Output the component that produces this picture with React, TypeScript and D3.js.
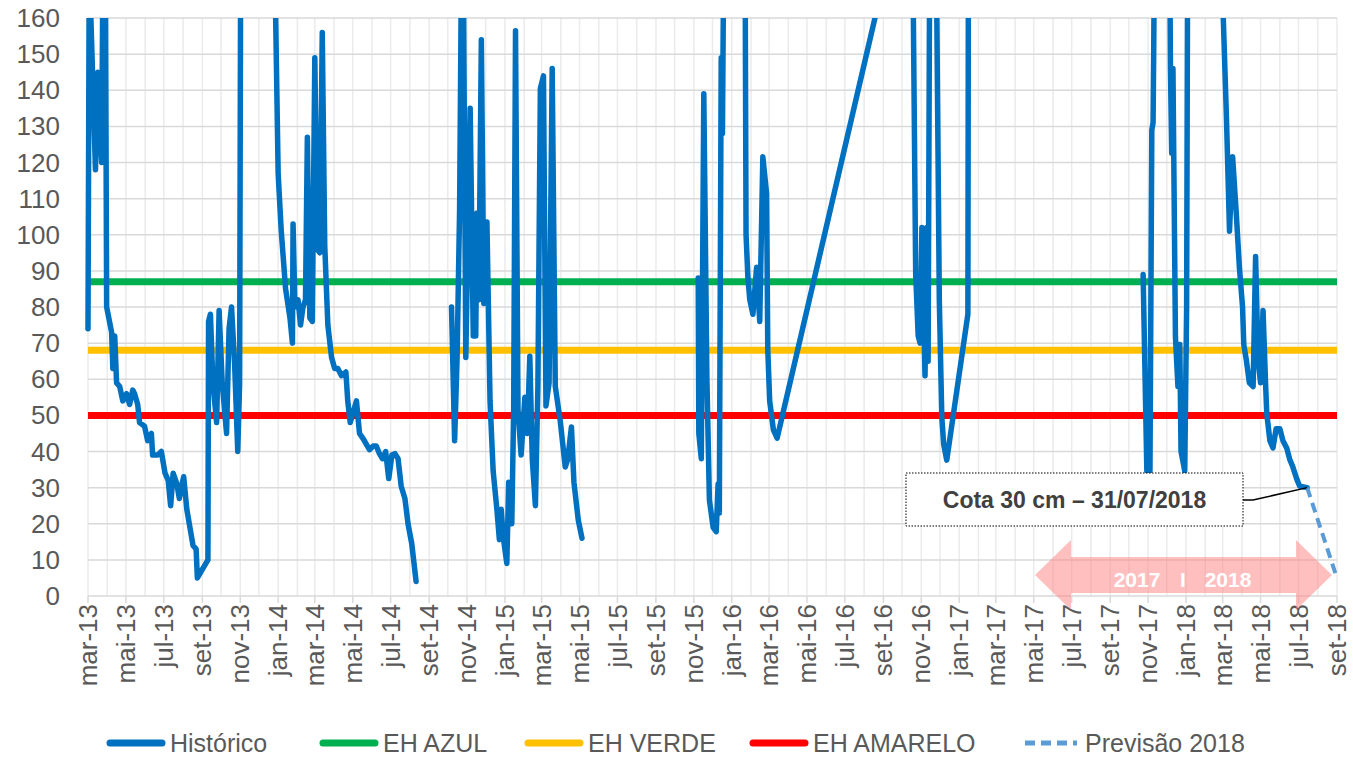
import React, { useRef, useEffect } from "react";
import * as d3 from "d3";

type Pt = [string, number];

// Histórico, split where the record has gaps
const hist2013: Pt[] = [
  ["2013-03-01", 74], ["2013-03-03", 175], ["2013-03-13", 118], ["2013-03-17", 145], ["2013-03-23", 120],
  ["2013-03-25", 175], ["2013-03-29", 175], ["2013-03-31", 80], ["2013-04-08", 73], ["2013-04-10", 63],
  ["2013-04-13", 72], ["2013-04-16", 59], ["2013-04-21", 58], ["2013-04-26", 54], ["2013-05-02", 56],
  ["2013-05-07", 53], ["2013-05-12", 57], ["2013-05-15", 56], ["2013-05-20", 53], ["2013-05-23", 48],
  ["2013-05-31", 47], ["2013-06-05", 43], ["2013-06-11", 45], ["2013-06-13", 39], ["2013-06-21", 39],
  ["2013-06-27", 40], ["2013-07-03", 34], ["2013-07-08", 32], ["2013-07-12", 25], ["2013-07-16", 34],
  ["2013-07-22", 31], ["2013-07-26", 27], ["2013-07-29", 30], ["2013-08-02", 33], ["2013-08-07", 24],
  ["2013-08-12", 19], ["2013-08-17", 14], ["2013-08-22", 13], ["2013-08-24", 5], ["2013-09-10", 10],
  ["2013-09-11", 76], ["2013-09-14", 78], ["2013-09-18", 59], ["2013-09-24", 48], ["2013-09-28", 79],
  ["2013-10-03", 59], ["2013-10-10", 45], ["2013-10-14", 74], ["2013-10-18", 80], ["2013-10-23", 64],
  ["2013-10-28", 40], ["2013-10-31", 59], ["2013-11-02", 200], ["2013-12-25", 200], ["2013-12-28", 160],
  ["2014-01-01", 117], ["2014-01-06", 101], ["2014-01-13", 85], ["2014-01-20", 77], ["2014-01-24", 70],
  ["2014-01-25", 103], ["2014-01-28", 80], ["2014-02-02", 82], ["2014-02-06", 75], ["2014-02-10", 80],
  ["2014-02-14", 82], ["2014-02-17", 127], ["2014-02-21", 77], ["2014-02-25", 76], ["2014-03-01", 149],
  ["2014-03-05", 96], ["2014-03-09", 95], ["2014-03-13", 156], ["2014-03-17", 97], ["2014-03-22", 75],
  ["2014-03-28", 66], ["2014-04-02", 63], ["2014-04-07", 63], ["2014-04-13", 61], ["2014-04-20", 62],
  ["2014-04-23", 54], ["2014-04-27", 48], ["2014-05-07", 54], ["2014-05-12", 45], ["2014-05-18", 43.5],
  ["2014-05-23", 42], ["2014-05-28", 40.5], ["2014-06-03", 41.5], ["2014-06-08", 41.5], ["2014-06-13", 39.4],
  ["2014-06-18", 38], ["2014-06-23", 40], ["2014-06-28", 32.5], ["2014-07-03", 39], ["2014-07-08", 39.4],
  ["2014-07-13", 38], ["2014-07-18", 30.4], ["2014-07-24", 27], ["2014-07-29", 20], ["2014-08-04", 14.5],
  ["2014-08-11", 4],
];

const hist2015: Pt[] = [
  ["2014-10-07", 80], ["2014-10-12", 43], ["2014-10-16", 66], ["2014-10-20", 107], ["2014-10-23", 175],
  ["2014-10-26", 175], ["2014-10-30", 66], ["2014-11-06", 135], ["2014-11-11", 72], ["2014-11-15", 72],
  ["2014-11-17", 106], ["2014-11-20", 82], ["2014-11-24", 154], ["2014-11-28", 81], ["2014-12-03", 103.5],
  ["2014-12-08", 54], ["2014-12-13", 34.6], ["2014-12-19", 24], ["2014-12-23", 15.6], ["2014-12-26", 24],
  ["2014-12-29", 16.6], ["2015-01-04", 9], ["2015-01-07", 31.5], ["2015-01-12", 20], ["2015-01-15", 51.6],
  ["2015-01-18", 156.5], ["2015-01-22", 51.6], ["2015-01-27", 39], ["2015-02-02", 55], ["2015-02-06", 45],
  ["2015-02-10", 66.4], ["2015-02-14", 37.8], ["2015-02-19", 25], ["2015-02-23", 58], ["2015-02-27", 140.5],
  ["2015-03-04", 144], ["2015-03-08", 52.6], ["2015-03-13", 59], ["2015-03-18", 146], ["2015-03-23", 58],
  ["2015-03-31", 48.4], ["2015-04-08", 35.7], ["2015-04-12", 37.8], ["2015-04-18", 46.8], ["2015-04-22", 31.5],
  ["2015-04-29", 21], ["2015-05-05", 16],
];

const hist2016: Pt[] = [
  ["2015-11-08", 88], ["2015-11-09", 45], ["2015-11-13", 38], ["2015-11-17", 139], ["2015-11-22", 60],
  ["2015-11-26", 26.6], ["2015-12-02", 19], ["2015-12-07", 17.8], ["2015-12-10", 31], ["2015-12-12", 23],
  ["2015-12-15", 149], ["2015-12-17", 128], ["2015-12-20", 200], ["2016-01-22", 200], ["2016-01-24", 100],
  ["2016-01-27", 88], ["2016-01-30", 82], ["2016-02-04", 78], ["2016-02-10", 91], ["2016-02-15", 76],
  ["2016-02-20", 121.6], ["2016-02-26", 111.5], ["2016-02-28", 68], ["2016-03-02", 54], ["2016-03-08", 46],
  ["2016-03-14", 43.7], ["2016-10-17", 204], ["2016-10-23", 89], ["2016-10-27", 72], ["2016-10-30", 70],
  ["2016-11-02", 102], ["2016-11-07", 61], ["2016-11-10", 102], ["2016-11-12", 65], ["2016-11-15", 200],
  ["2016-11-24", 200], ["2016-11-30", 82], ["2016-12-04", 49.6], ["2016-12-07", 42], ["2016-12-12", 37.6],
  ["2017-01-15", 78], ["2017-01-16", 200],
];

const hist2018: Pt[] = [
  ["2017-10-24", 89], ["2017-10-30", 34.6], ["2017-11-04", 34.6], ["2017-11-07", 129], ["2017-11-09", 131],
  ["2017-11-10", 150], ["2017-11-12", 200], ["2017-12-05", 200], ["2017-12-07", 146], ["2017-12-09", 122.6],
  ["2017-12-11", 146], ["2017-12-15", 71.7], ["2017-12-19", 58], ["2017-12-22", 69.6], ["2017-12-24", 40],
  ["2017-12-30", 34.6], ["2018-01-02", 80], ["2018-01-04", 200], ["2018-02-28", 200], ["2018-03-02", 160],
  ["2018-03-07", 133], ["2018-03-12", 101], ["2018-03-17", 121.6], ["2018-03-23", 105.6], ["2018-03-28", 90.8],
  ["2018-04-02", 80], ["2018-04-04", 69.6], ["2018-04-08", 65.4], ["2018-04-13", 59], ["2018-04-19", 58],
  ["2018-04-23", 94], ["2018-04-27", 65.4], ["2018-05-01", 59], ["2018-05-05", 79], ["2018-05-09", 59],
  ["2018-05-11", 50.5], ["2018-05-16", 43], ["2018-05-21", 41], ["2018-05-26", 46.3], ["2018-06-01", 46.3],
  ["2018-06-06", 43], ["2018-06-12", 41], ["2018-06-17", 37.8], ["2018-06-22", 35.7], ["2018-06-28", 32.5],
  ["2018-07-03", 30.4], ["2018-07-15", 30],
];

const historico = [hist2013, hist2015, hist2016, hist2018];

const previsao: Pt[] = [["2018-07-15", 30], ["2018-08-30", 6]];

const thresholdNames = ["EH AZUL", "EH VERDE", "EH AMARELO"];
const thresholdValues = [87, 68, 50];
const thresholdColors = ["#00B050", "#FFC000", "#FF0000"];

const monthNames = ["jan", "fev", "mar", "abr", "mai", "jun", "jul", "ago", "set", "out", "nov", "dez"];
const yTicks = [0, 10, 20, 30, 40, 50, 60, 70, 80, 90, 100, 110, 120, 130, 140, 150, 160];

const annotationText = "Cota 30 cm – 31/07/2018";
const periodLabels = ["2017", "I", "2018"];

const FONT = "'Liberation Sans', Arial, sans-serif";

const App = () => {
  const svgRef = useRef<SVGSVGElement>(null);

  useEffect(() => {
    if (!svgRef.current) return;
    const width = 1353;
    const height = 758;
    const margin = { top: 18, right: 16, bottom: 162, left: 88 };
    const parse = d3.timeParse("%Y-%m-%d");

    const svg = d3.select(svgRef.current);
    svg.selectAll("*").remove();
    svg.attr("width", width).attr("height", height);

    const x = d3
      .scaleTime()
      .domain([parse("2013-03-01")!, parse("2018-09-01")!])
      .range([margin.left, width - margin.right]);
    const y = d3.scaleLinear().domain([0, 160]).range([height - margin.bottom, margin.top]);

    const [x0, x1] = x.range();
    const [yb, yt] = y.range();

    // grade
    const months = d3.timeMonth.range(x.domain()[0], d3.timeDay.offset(x.domain()[1], 1));
    svg
      .append("g")
      .selectAll("line")
      .data(months)
      .enter()
      .append("line")
      .attr("x1", (d) => x(d))
      .attr("x2", (d) => x(d))
      .attr("y1", yt)
      .attr("y2", yb)
      .attr("stroke", "#ebebeb")
      .attr("stroke-width", 1.5);

    svg
      .append("g")
      .selectAll("line")
      .data(yTicks)
      .enter()
      .append("line")
      .attr("x1", x0)
      .attr("x2", x1)
      .attr("y1", (d) => y(d))
      .attr("y2", (d) => y(d))
      .attr("stroke", "#d9d9d9")
      .attr("stroke-width", 1.5);

    // eixo y
    svg
      .append("g")
      .selectAll("text")
      .data(yTicks)
      .enter()
      .append("text")
      .attr("x", 60)
      .attr("y", (d) => y(d))
      .attr("dy", "0.35em")
      .attr("text-anchor", "end")
      .style("font-family", FONT)
      .style("font-size", "26px")
      .style("fill", "#595959")
      .text((d) => d);

    // eixo x
    const xTicks = d3.timeMonth.every(2)!.range(x.domain()[0], d3.timeDay.offset(x.domain()[1], 1));
    const xAxis = svg.append("g");
    xAxis
      .selectAll("line")
      .data(xTicks)
      .enter()
      .append("line")
      .attr("x1", (d) => x(d))
      .attr("x2", (d) => x(d))
      .attr("y1", yb)
      .attr("y2", yb + 7)
      .attr("stroke", "#d9d9d9")
      .attr("stroke-width", 1.5);
    xAxis
      .selectAll("text")
      .data(xTicks)
      .enter()
      .append("text")
      .attr("transform", (d) => `translate(${x(d)},${yb + 8}) rotate(-90)`)
      .attr("dy", "0.35em")
      .attr("text-anchor", "end")
      .style("font-family", FONT)
      .style("font-size", "26px")
      .style("fill", "#595959")
      .text((d) => `${monthNames[d.getMonth()]}-${String(d.getFullYear()).slice(2)}`);

    // seta 2017 | 2018
    const ax0 = 1035, ax1 = 1332, ah = 36, cy = 575;
    svg
      .append("path")
      .attr(
        "d",
        `M${ax0},${cy} L${ax0 + ah},${cy - 35} L${ax0 + ah},${cy - 18} L${ax1 - ah},${cy - 18} L${ax1 - ah},${cy - 35} L${ax1},${cy} L${ax1 - ah},${cy + 35} L${ax1 - ah},${cy + 18} L${ax0 + ah},${cy + 18} L${ax0 + ah},${cy + 35} Z`
      )
      .attr("fill", "#FF8080")
      .attr("opacity", 0.5);
    const labelX = [1137, 1183, 1228];
    svg
      .append("g")
      .selectAll("text")
      .data(periodLabels)
      .enter()
      .append("text")
      .attr("x", (_, i) => labelX[i])
      .attr("y", cy + 12)
      .attr("text-anchor", "middle")
      .style("font-family", FONT)
      .style("font-size", "21px")
      .style("font-weight", "bold")
      .style("fill", "#ffffff")
      .text((d) => d);

    // linhas de referência
    svg
      .append("g")
      .selectAll("line")
      .data(thresholdValues)
      .enter()
      .append("line")
      .attr("x1", x0)
      .attr("x2", x1)
      .attr("y1", (d) => y(d))
      .attr("y2", (d) => y(d))
      .attr("stroke", (_, i) => thresholdColors[i])
      .attr("stroke-width", 7);

    // série histórica
    svg
      .append("clipPath")
      .attr("id", "plotClip")
      .append("rect")
      .attr("x", x0 - 5)
      .attr("y", yt)
      .attr("width", x1 - x0 + 10)
      .attr("height", yb - yt + 10);

    const line = d3
      .line<Pt>()
      .x((d) => x(parse(d[0])!))
      .y((d) => y(d[1]));

    const series = svg.append("g").attr("clip-path", "url(#plotClip)");
    series
      .selectAll(".hist")
      .data(historico)
      .enter()
      .append("path")
      .attr("class", "hist")
      .attr("d", (d) => line(d))
      .attr("fill", "none")
      .attr("stroke", "#0070C0")
      .attr("stroke-width", 5.5)
      .attr("stroke-linejoin", "round")
      .attr("stroke-linecap", "round");

    series
      .append("path")
      .attr("d", line(previsao))
      .attr("fill", "none")
      .attr("stroke", "#5B9BD5")
      .attr("stroke-width", 4)
      .attr("stroke-dasharray", "10 6");

    // anotação
    const endPt = previsao[0];
    const ex = x(parse(endPt[0])!);
    const ey = y(endPt[1]);
    svg
      .append("path")
      .attr("d", `M1243,500 L1253,500 L${ex},${ey}`)
      .attr("fill", "none")
      .attr("stroke", "#000")
      .attr("stroke-width", 1.5);
    svg
      .append("rect")
      .attr("x", 906)
      .attr("y", 473)
      .attr("width", 337)
      .attr("height", 53)
      .attr("fill", "#fff")
      .attr("stroke", "#000")
      .attr("stroke-width", 1)
      .attr("stroke-dasharray", "1.5 1.5");
    svg
      .append("text")
      .attr("x", 1074.5)
      .attr("y", 508)
      .attr("text-anchor", "middle")
      .style("font-family", FONT)
      .style("font-size", "23px")
      .style("font-weight", "bold")
      .style("fill", "#404040")
      .text(annotationText);

    // legenda
    const legendItems = [
      { name: "Histórico", color: "#0070C0", dash: null as string | null, x: 107 },
      ...thresholdNames.map((n, i) => ({ name: n, color: thresholdColors[i], dash: null as string | null, x: [320, 525, 750][i] })),
      { name: "Previsão 2018", color: "#5B9BD5", dash: "10 6", x: 1022 },
    ];
    const legend = svg.append("g");
    const ly = 743;
    legendItems.forEach((item) => {
      legend
        .append("line")
        .attr("x1", item.x + 3)
        .attr("x2", item.x + 55)
        .attr("y1", ly)
        .attr("y2", ly)
        .attr("stroke", item.color)
        .attr("stroke-width", item.dash ? 5 : 7)
        .attr("stroke-linecap", item.dash ? "butt" : "round")
        .attr("stroke-dasharray", item.dash);
      legend
        .append("text")
        .attr("x", item.x + 63)
        .attr("y", ly)
        .attr("dy", "0.35em")
        .style("font-family", FONT)
        .style("font-size", "25px")
        .style("fill", "#595959")
        .text(item.name);
    });
  }, []);

  return (
    <div style={{ position: "absolute", left: 0, top: 0, background: "#fff" }}>
      <svg ref={svgRef} style={{ display: "block" }} />
    </div>
  );
};

export default App;
